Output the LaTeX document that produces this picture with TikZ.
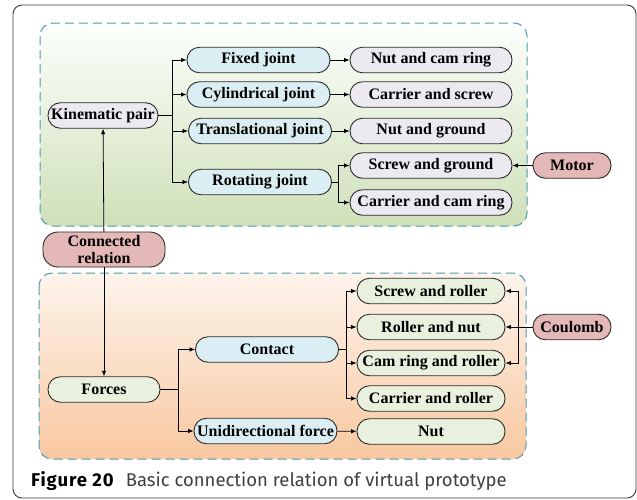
\documentclass[tikz,border=0pt]{standalone}
\usepackage{fontspec}
\setmainfont{Liberation Serif}
\newfontfamily\capfont{Fira Sans}
\usetikzlibrary{arrows.meta,positioning}
\definecolor{frameC}{HTML}{3A3A3A}
\definecolor{capC}{HTML}{404040}
\definecolor{dashC}{HTML}{4E9BAE}
\definecolor{blueF}{HTML}{DAEEF3}
\definecolor{lavF}{HTML}{ECE9F1}
\definecolor{grnF}{HTML}{EAF0DE}
\definecolor{pinkF}{HTML}{E4B8B7}
\definecolor{edgeC}{HTML}{2B2B2B}
\tikzset{
  pill/.style={draw=edgeC, line width=0.9pt, rounded corners=12.5pt, minimum height=25.5pt,
    inner sep=2pt, align=center, font=\fontsize{16}{16.5}\selectfont\bfseries},
  bluebox/.style={pill, fill=blueF, minimum width=143pt},
  lavbox/.style={pill, fill=lavF, minimum width=162pt},
  grnbox/.style={pill, fill=grnF, minimum width=148pt},
  pinkbox/.style={pill, fill=pinkF, minimum width=78pt},
  arr/.style={draw=black, line width=0.8pt, -{Latex[length=5.5pt,width=4.5pt]}},
  ln/.style={draw=black, line width=0.8pt},
  group/.style={draw=dashC, line width=1pt, dash pattern=on 9pt off 5pt, rounded corners=13pt}
}
\begin{document}
\begin{tikzpicture}[x=1pt,y=-1pt]
\useasboundingbox (0,0) rectangle (637,499);
% outer frame
\draw[frameC, line width=0.9pt, rounded corners=9pt] (13,5) rectangle (636,498);
% group boxes
\shade[top color=white!85!green!8, bottom color={rgb,255:red,207;green,224;blue,185}, rounded corners=13pt] (40,23) rectangle (527,226);
\draw[group] (40,23) rectangle (527,226);
\shade[top color={rgb,255:red,253;green,244;blue,236}, bottom color={rgb,255:red,248;green,200;blue,160}, rounded corners=13pt] (39,273) rectangle (526,459);
\draw[group] (39,273) rectangle (526,459);

% top section
\node[pill, fill=lavF, minimum width=110pt] (kin) at (103,115.5) {Kinematic pair};
\node[bluebox] (fix) at (258.5,60) {Fixed joint};
\node[bluebox] (cyl) at (258.5,94.5) {Cylindrical joint};
\node[bluebox] (tra) at (260,131) {Translational joint};
\node[bluebox] (rot) at (260,182) {Rotating joint};
\node[lavbox] (ncr) at (431,60) {Nut and cam ring};
\node[lavbox] (cas) at (431,94.5) {Carrier and screw};
\node[lavbox] (ngr) at (431,131) {Nut and ground};
\node[lavbox] (sgr) at (431,165.5) {Screw and ground};
\node[lavbox] (ccr) at (431,202.5) {Carrier and cam ring};
\node[pinkbox] (mot) at (572,165.5) {Motor};

\node[pill, fill=pinkF, minimum width=122pt, minimum height=35pt, rounded corners=15pt,
  font=\fontsize{16}{17}\selectfont\bfseries] (con) at (104,249.5) {Connected\\relation};

% bottom section
\node[pill, fill=grnF, minimum width=112pt] (for) at (104,389.5) {Forces};
\node[bluebox] (cnt) at (267,349.5) {Contact};
\node[bluebox] (uni) at (265.5,431) {Unidirectional force};
\node[grnbox] (srl) at (431,291) {Screw and roller};
\node[grnbox] (rnu) at (431,327) {Roller and nut};
\node[grnbox] (crr) at (431,363) {Cam ring and roller};
\node[grnbox] (car) at (431,398.5) {Carrier and roller};
\node[grnbox] (nut) at (431,431.5) {Nut};
\node[pinkbox] (cou) at (572,327) {Coulomb};

% connectors top
\draw[ln] (kin.east) -- ++(14,0) coordinate (kb);
\draw[arr] (kb) |- (fix.west);
\draw[arr] (kb) |- (cyl.west);
\draw[arr] (kb) |- (tra.west);
\draw[arr] (kb) |- (rot.west);
\draw[arr] (fix) -- (ncr);
\draw[arr] (cyl) -- (cas);
\draw[arr] (tra) -- (ngr);
\draw[ln] (rot.east) -- ++(6,0) coordinate (rb);
\draw[arr] (rb) |- (sgr.west);
\draw[arr] (rb) |- (ccr.west);
\draw[arr] (mot) -- (sgr);
\draw[arr] (con) -- (kin);
\draw[arr] (con) -- (for);

% connectors bottom
\draw[ln] (for.east) -- ++(18,0) coordinate (fb);
\draw[arr] (fb) |- (cnt.west);
\draw[arr] (fb) |- (uni.west);
\draw[ln] (cnt.east) -- ++(7,0) coordinate (cb);
\draw[arr] (cb) |- (srl.west);
\draw[arr] (cb) |- (rnu.west);
\draw[arr] (cb) |- (crr.west);
\draw[arr] (cb) |- (car.west);
\draw[arr] (uni) -- (nut);
\draw[arr] (cou) -- (rnu);
\draw[ln] (cou.west) -- ++(-14,0) coordinate (qb);
\draw[arr] (qb) |- (srl.east);
\draw[arr] (qb) |- (crr.east);

% caption
\node[anchor=base west, inner sep=0pt, text=capC, font=\capfont\fontsize{18.5}{20}\selectfont] (cap) at (31,486)
  {{\color{black}\bfseries\addfontfeature{LetterSpace=5}Figure 20}\hspace{12pt}Basic connection relation of virtual prototype};
\end{tikzpicture}
\end{document}
